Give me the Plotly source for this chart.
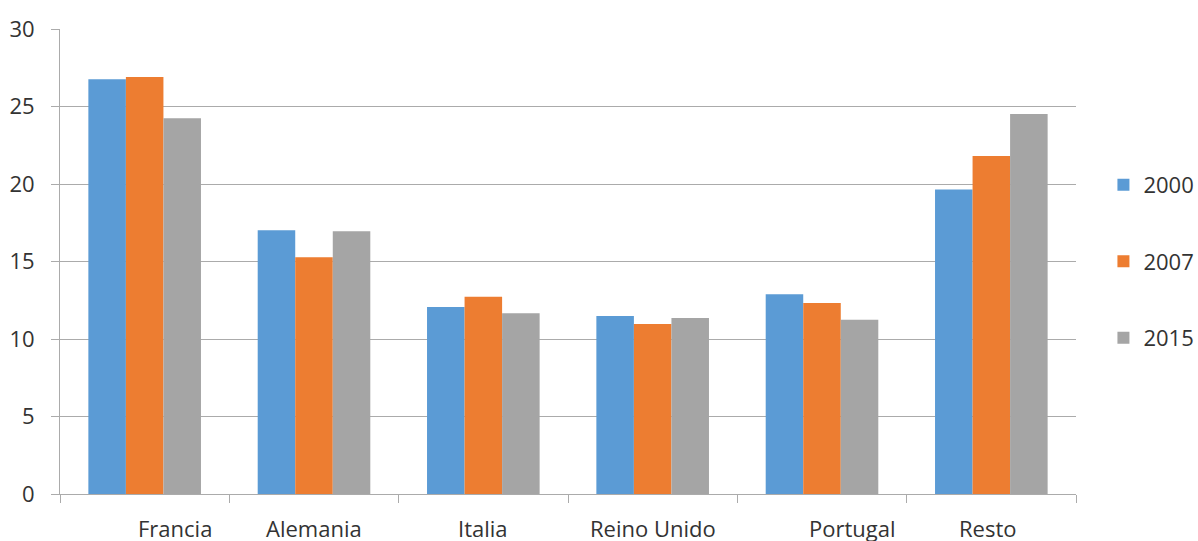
import plotly.graph_objects as go

categories = ["Francia", "Alemania", "Italia", "Reino Unido", "Portugal", "Resto"]
years = ["2000", "2007", "2015"]
values_2000 = [26.76, 17.01, 12.07, 11.49, 12.89, 19.65]
values_2007 = [26.90, 15.27, 12.73, 10.97, 12.33, 21.80]
values_2015 = [24.25, 16.95, 11.66, 11.36, 11.24, 24.52]
y_ticks = [0, 5, 10, 15, 20, 25, 30]

series = [values_2000, values_2007, values_2015]
colors = ["#5B9BD5", "#ED7D31", "#A5A5A5"]
label_shift = {"Francia": 30, "Portugal": 30, "Resto": -3}

FONT = "Open Sans, DejaVu Sans, sans-serif"
TXT = "#333333"
GRID = "#ABABAB"

fig = go.Figure()
for name, vals, col in zip(years, series, colors):
    fig.add_trace(go.Bar(
        x=categories, y=vals, name=name, marker=dict(color=col, line=dict(width=0)),
        legendgroup=name,
    ))

for c in categories:
    fig.add_annotation(
        x=c, xref="x", y=0, yref="paper", yanchor="top", yshift=-17,
        xshift=label_shift.get(c, 0), text=c, showarrow=False,
        font=dict(family=FONT, size=22, color=TXT),
    )

fig.update_layout(
    width=1198, height=541,
    margin=dict(l=60, r=122, t=29, b=47, autoexpand=False),
    paper_bgcolor="white", plot_bgcolor="white",
    barmode="group", bargap=0.335, bargroupgap=0,
    font=dict(family=FONT, size=22, color=TXT),
    showlegend=True,
    legend=dict(
        x=1.027, xanchor="left", y=0.71, yanchor="top",
        font=dict(family=FONT, size=22, color=TXT),
        tracegroupgap=45, itemwidth=30, traceorder="grouped",
        bgcolor="rgba(0,0,0,0)",
    ),
)

fig.update_xaxes(
    showticklabels=False, showgrid=False,
    showline=True, linecolor=GRID, linewidth=1,
    ticks="outside", tickson="boundaries", ticklen=8, tickcolor=GRID,
    range=[-0.5, 5.5],
)
fig.update_yaxes(
    range=[0, 30], tickvals=y_ticks, ticktext=[str(v) for v in y_ticks],
    showgrid=True, gridcolor=GRID, gridwidth=1,
    showline=True, linecolor=GRID, linewidth=1,
    ticks="outside", ticklen=8, tickcolor=GRID,
    zeroline=False,
    tickfont=dict(family=FONT, size=22, color=TXT),
    ticklabelstandoff=12,
)

fig.write_html("out.html")
